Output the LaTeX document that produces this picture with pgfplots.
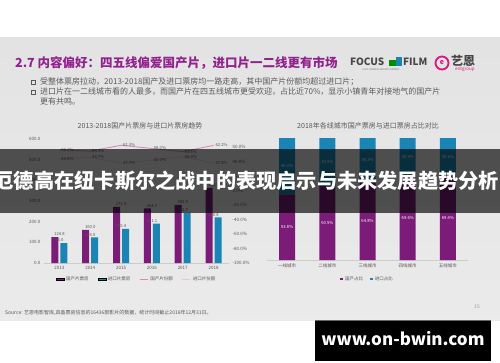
\documentclass[border=0pt]{standalone}
\usepackage{fontspec}
\setmainfont{Noto Sans CJK SC}
\usepackage{pgfplots}
\pgfplotsset{compat=1.18}
\definecolor{dompurple}{RGB}{122,28,120}
\definecolor{impblue}{RGB}{26,132,180}
\definecolor{linepink}{RGB}{214,140,185}
\definecolor{linelight}{RGB}{228,196,214}
\definecolor{titlepurple}{RGB}{146,34,142}
\definecolor{txtgray}{RGB}{89,89,89}
\pgfplotsset{
 barleg/.style={legend image code/.code={\fill[##1] (0pt,-1.3pt) rectangle (8pt,1.3pt);}},
 lineleg/.style={legend image code/.code={\draw[##1] (0pt,0pt) -- (8pt,0pt);}},
 sqleg/.style={legend image code/.code={\fill[##1] (0pt,-1.4pt) rectangle (2.8pt,1.4pt);}},
}
\newcommand{\tinyf}{\fontsize{4.5}{5}\selectfont}
\begin{document}
\begin{tikzpicture}
\path[use as bounding box] (0pt,0pt) rectangle (500pt,362pt);
\begin{scope}[x=1pt,y=1pt]
\fill[white] (0,0) rectangle (500,362);
\shade[top color=black!11, middle color=white, bottom color=black!8] (0,42) rectangle (500,324);
% title and bullets
\node[anchor=west, font=\fontsize{12.5}{14}\selectfont\bfseries, text=titlepurple, inner sep=0] at (15,299) {2.7 内容偏好：四五线偏爱国产片，进口片一二线更有市场};
\draw[txtgray, line width=0.7pt] (31.2,277.7) rectangle (35.6,282.1);
\draw[txtgray, line width=0.7pt] (31.2,267.7) rectangle (35.6,272.1);
\node[anchor=west, font=\fontsize{8}{9}\selectfont, text=txtgray, inner sep=0] at (40,280) {受整体票房拉动，2013-2018国产及进口票房均一路走高，其中国产片份额均超过进口片；};
\node[anchor=west, font=\fontsize{8}{9}\selectfont, text=txtgray, inner sep=0] at (40,270) {进口片在一二线城市看的人最多，而国产片在四五线城市更受欢迎，占比近70\%，显示小镇青年对接地气的国产片};
\node[anchor=west, font=\fontsize{8}{9}\selectfont, text=txtgray, inner sep=0] at (40,260.5) {更有共鸣。};
% logos
\node[anchor=west, font=\fontsize{10}{11}\selectfont\bfseries, text=black!72, inner sep=0] at (350,300) {FOCUS};
\fill[green!55!black] (389,295.5) rectangle (396,302);
\fill[impblue] (396,295.5) rectangle (402,305);
\node[anchor=west, font=\fontsize{10}{11}\selectfont\bfseries, text=black!72, inner sep=0] at (403,300) {FILM};
\node[font=\fontsize{2.4}{3}\selectfont, text=black!55, inner sep=0] at (381,292.5) {A FOCUSMEDIA GROUP COMPANY};
\draw[magenta!75!purple, line width=1.8pt] (442,299) circle (6.5);
\node[font=\fontsize{7}{8}\selectfont\bfseries, text=magenta!75!purple, inner sep=0] at (442,299) {e};
\node[anchor=west, font=\fontsize{12}{13}\selectfont\bfseries, text=black!72, inner sep=0] at (451,301) {艺恩};
\node[anchor=west, font=\fontsize{4.5}{5}\selectfont, text=magenta!75!purple, inner sep=0] at (455,292.5) {entgroup};
% chart titles
\node[font=\fontsize{7}{8}\selectfont, text=txtgray, inner sep=0] at (140,236) {2013-2018国产片票房与进口片票房趋势};
\node[font=\fontsize{7}{8}\selectfont, text=txtgray, inner sep=0] at (368,236) {2018年各线城市国产票房与进口票房占比对比};
\end{scope}
% left chart: bars
\begin{axis}[at={(44pt,99pt)}, anchor=south west, scale only axis, width=185pt, height=124pt,
 xmin=-0.5, xmax=5.5, ymin=0, ymax=600,
 xtick={0,1,2,3,4,5}, xticklabels={2013,2014,2015,2016,2017,2018},
 ytick={0,100,200,300,400,500,600},
 axis x line*=bottom, axis y line*=left,
 x axis line style={draw=black!20}, y axis line style={draw=none},
 major tick length=0,
 /pgf/number format/assume math mode=true,
 yticklabel={\pgfmathprintnumber[fixed,fixed zerofill,precision=1]{\tick}},
 tick label style={font=\tinyf, text=txtgray},
 nodes near coords={\pgfmathprintnumber[fixed,fixed zerofill,precision=1]{\pgfplotspointmeta}},
 every node near coord/.append style={font=\fontsize{4.2}{5}\selectfont, text=txtgray, inner sep=1pt},
]
\addplot[ybar, bar width=7pt, bar shift=-4.5pt, fill=dompurple, draw=none] coordinates {(0,124.8) (1,160.0) (2,271.4) (3,264.1) (4,280.9) (5,363.3)};
\addplot[ybar, bar width=7pt, bar shift=4.5pt, fill=impblue, draw=none] coordinates {(0,96.0) (1,124.5) (2,165.4) (3,191.1) (4,242.7) (5,220.8)};
\end{axis}
% left chart: shares
\begin{axis}[at={(44pt,99pt)}, anchor=south west, scale only axis, width=185pt, height=124pt,
 xmin=-0.5, xmax=5.5, ymin=-100, ymax=71,
 axis x line=none, axis y line*=right, y axis line style={draw=none},
 ytick={-100,-80,-60,-40,-20,0,20,40,60},
 major tick length=0,
 /pgf/number format/assume math mode=true,
 yticklabel={\pgfmathprintnumber[fixed,fixed zerofill,precision=1]{\tick}\%},
 tick label style={font=\tinyf, text=txtgray},
 nodes near coords={\pgfmathprintnumber[fixed,fixed zerofill,precision=1]{\pgfplotspointmeta}\%},
 every node near coord/.append style={font=\fontsize{4.2}{5}\selectfont, text=txtgray, anchor=west, inner sep=1.5pt},
 legend style={at={(0.5,-0.13)}, anchor=center, draw=none, fill=none, font=\tinyf, text=txtgray, legend columns=4, /tikz/every even column/.append style={column sep=7pt}},
]
\addlegendimage{barleg, fill=dompurple}
\addlegendimage{barleg, fill=impblue}
\addplot[lineleg, linepink, line width=0.9pt, mark=none] coordinates {(0,56.1) (1,54.3) (2,62.3) (3,58.0) (4,53.6) (5,62.2)};
\addplot[lineleg, linelight, line width=0.9pt, mark=none] coordinates {(0,43.9) (1,45.7) (2,37.7) (3,42.0) (4,46.4) (5,37.8)};
\legend{国产片票房,进口片票房,国产片份额,进口片份额}
\end{axis}
% right chart
\begin{axis}[at={(267pt,102pt)}, anchor=south west, scale only axis, width=201pt, height=122pt,
 xmin=-0.5, xmax=4.5, ymin=0, ymax=100,
 ybar stacked, bar width=16pt,
 axis y line=none, axis x line*=bottom, x axis line style={draw=black!20},
 xtick={0,1,2,3,4}, xticklabels={一线城市,二线城市,三线城市,四线城市,五线城市},
 major tick length=0,
 tick label style={font=\tinyf, text=txtgray},
 legend style={at={(0.5,-0.155)}, anchor=center, draw=none, fill=none, font=\tinyf, text=txtgray, legend columns=2, /tikz/every even column/.append style={column sep=5pt}},
]
\addplot[sqleg, fill=dompurple, draw=none] coordinates {(0,53.8) (1,60.5) (2,64.8) (3,69.6) (4,69.4)};
\addplot[sqleg, fill=impblue, draw=none] coordinates {(0,46.2) (1,39.5) (2,35.2) (3,30.4) (4,30.6)};
\legend{国产占比,进口占比}
\end{axis}
% right chart: segment labels at segment middles
\begin{axis}[at={(267pt,102pt)}, anchor=south west, scale only axis, width=201pt, height=122pt,
 xmin=-0.5, xmax=4.5, ymin=0, ymax=100, hide axis,
 nodes near coords, point meta=explicit symbolic,
 every node near coord/.append style={font=\fontsize{4.2}{5}\selectfont, text=white, anchor=center},
]
\addplot[only marks, mark=none] coordinates {(0,26.9)[53.8\%] (1,30.25)[60.5\%] (2,32.4)[64.8\%] (3,34.8)[69.6\%] (4,34.7)[69.4\%]};
\addplot[only marks, mark=none] coordinates {(0,76.9)[46.2\%] (1,80.25)[39.5\%] (2,82.4)[35.2\%] (3,84.8)[30.4\%] (4,84.7)[30.6\%]};
\end{axis}
\begin{scope}[x=1pt,y=1pt]
% footer
\node[anchor=west, font=\fontsize{5}{6}\selectfont, text=txtgray, inner sep=0] at (5,49) {Source: 艺恩电影智库,具备票房信息的16436部影片的数据，统计时间截止2018年12月31日。};
\node[font=\fontsize{5}{6}\selectfont, text=black!40, inner sep=0] at (477,55) {15};
% overlay banner
\fill[black, opacity=0.66] (0,149) rectangle (500,213);
\node[anchor=east, font=\fontsize{20.2}{22}\selectfont\bfseries, text=white, inner sep=0] at (499,181) {厄德高在纽卡斯尔之战中的表现启示与未来发展趋势分析};
% watermark box
\fill[black] (315,1) rectangle (491,42);
\draw[black!60, line width=1pt] (315,41.5) -- (491,41.5);
\node[font=\fontsize{17}{19}\selectfont\bfseries, text=white, inner sep=0] at (403,23) {www.on-bwin.com};
\end{scope}
\end{tikzpicture}
\end{document}
